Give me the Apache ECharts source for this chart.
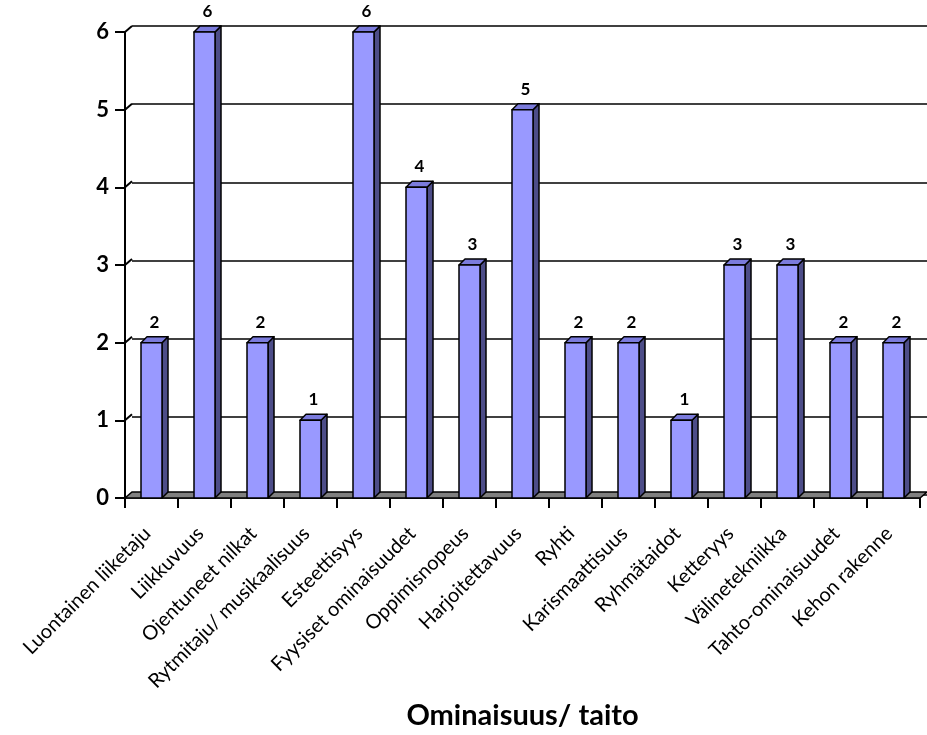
<!DOCTYPE html>
<html>
<head>
<meta charset="utf-8">
<script src="https://cdn.jsdelivr.net/npm/echarts@6/dist/echarts.min.js"></script>
<style>
  html, body { margin: 0; padding: 0; background: #ffffff; }
  #chart { width: 927px; height: 735px; }
</style>
</head>
<body>
<div id="chart"></div>
<script>
// Ominaisuudet / taidot and how many times each was named
const categories = [
  'Luontainen liiketaju', 'Liikkuvuus', 'Ojentuneet nilkat', 'Rytmitaju/ musikaalisuus',
  'Esteettisyys', 'Fyysiset ominaisuudet', 'Oppimisnopeus', 'Harjoitettavuus', 'Ryhti',
  'Karismaattisuus', 'Ryhmätaidot', 'Ketteryys', 'Välinetekniikka', 'Tahto-ominaisuudet',
  'Kehon rakenne'
];
const counts = [2, 6, 2, 1, 6, 4, 3, 5, 2, 2, 1, 3, 3, 2, 2];
const yTicks = [0, 1, 2, 3, 4, 5, 6];
const axisTitle = 'Ominaisuus/ taito';

const FONT = 'Lato, "Open Sans", sans-serif';
const FRONT = '#9999ff';
const SIDE = '#4d4d88';
const TOP = '#7b7bdc';
const BAR_W = 21;     // front face width
const BAR_D = 6;      // bar depth offset
const WALL_D = 7;     // wall depth offset (x)
const WALL_DY = 6;    // wall depth offset (y)

const chart = echarts.init(document.getElementById('chart'), null, { renderer: 'canvas' });

// side wall edges and floor slab
function renderWalls(params, api) {
  const v = api.value(1);
  const c = api.coord([0, v]);
  const band = api.size([1, 0])[0];
  const x0 = c[0] - band / 2;
  const y = c[1];
  const children = [];
  if (v === 0) {
    const xEnd = x0 + band * categories.length;
    children.push({
      type: 'polygon',
      shape: { points: [[x0, y], [xEnd, y], [xEnd + WALL_D, y - WALL_DY], [x0 + WALL_D, y - WALL_DY]] },
      style: { fill: '#808080', stroke: '#000', lineWidth: 1.5 }
    });
  } else {
    children.push({
      type: 'line',
      shape: { x1: x0, y1: y, x2: x0 + WALL_D, y2: y - WALL_DY },
      style: { stroke: '#000', lineWidth: 2 }
    });
  }
  return { type: 'group', children };
}

// 3D-looking column: front face, side face, top face and value label
function renderBar(params, api) {
  const i = api.value(0);
  const v = api.value(1);
  const base = api.coord([i, 0]);
  const top = api.coord([i, v]);
  const x = base[0] - BAR_W / 2;
  const yb = base[1];
  const yt = top[1];
  const d = BAR_D;
  const stroke = { stroke: '#000', lineWidth: 1.5, lineJoin: 'round' };
  return {
    type: 'group',
    children: [
      {
        type: 'polygon',
        shape: { points: [[x + BAR_W, yt], [x + BAR_W + d, yt - d], [x + BAR_W + d, yb - d], [x + BAR_W, yb]] },
        style: Object.assign({ fill: SIDE }, stroke)
      },
      {
        type: 'polygon',
        shape: { points: [[x, yt], [x + d, yt - d], [x + BAR_W + d, yt - d], [x + BAR_W, yt]] },
        style: Object.assign({ fill: TOP }, stroke)
      },
      {
        type: 'rect',
        shape: { x: x, y: yt, width: BAR_W, height: yb - yt },
        style: Object.assign({ fill: FRONT }, stroke)
      },
      {
        type: 'text',
        style: {
          text: String(v),
          x: base[0] + d / 2,
          y: yt - d - 6,
          align: 'center',
          verticalAlign: 'bottom',
          font: 'bold 17px ' + FONT,
          fill: '#000'
        }
      }
    ]
  };
}

chart.setOption({
  animation: false,
  backgroundColor: '#ffffff',
  grid: [
    { left: 125, top: 32, width: 795, height: 469 },
    { left: 132, top: 26, width: 795, height: 469 }
  ],
  xAxis: [
    {
      type: 'category',
      gridIndex: 0,
      data: categories,
      boundaryGap: true,
      axisLine: { show: true, lineStyle: { color: '#000', width: 1.5 } },
      axisTick: { show: true, length: 10, lineStyle: { color: '#000', width: 2 } },
      axisLabel: {
        interval: 0,
        rotate: 45,
        margin: 28,
        padding: [0, 6, 0, 0],
        color: '#000',
        fontFamily: FONT,
        fontSize: 20
      },
      splitLine: { show: false },
      name: axisTitle,
      nameLocation: 'middle',
      nameGap: 203,
      nameTextStyle: { color: '#000', fontFamily: FONT, fontWeight: 'bold', fontSize: 29 }
    },
    {
      type: 'category',
      gridIndex: 1,
      data: categories,
      show: false
    }
  ],
  yAxis: [
    {
      type: 'value',
      gridIndex: 0,
      min: 0,
      max: 6,
      interval: 1,
      axisLine: { show: true, lineStyle: { color: '#000', width: 2 } },
      axisTick: { show: true, length: 10, lineStyle: { color: '#000', width: 2 } },
      axisLabel: {
        margin: 16,
        color: '#000',
        fontFamily: FONT,
        fontWeight: 'bold',
        fontSize: 22
      },
      splitLine: { show: false }
    },
    {
      type: 'value',
      gridIndex: 1,
      min: 0,
      max: 6,
      interval: 1,
      axisLine: { show: false },
      axisTick: { show: false },
      axisLabel: { show: false },
      splitLine: { show: true, lineStyle: { color: '#000', width: 1.5 } }
    }
  ],
  series: [
    {
      type: 'custom',
      xAxisIndex: 0,
      yAxisIndex: 0,
      z: 2,
      silent: true,
      renderItem: renderWalls,
      data: yTicks.map(v => [0, v])
    },
    {
      type: 'custom',
      xAxisIndex: 0,
      yAxisIndex: 0,
      z: 3,
      renderItem: renderBar,
      data: counts.map((v, i) => [i, v])
    }
  ]
});
</script>
</body>
</html>
